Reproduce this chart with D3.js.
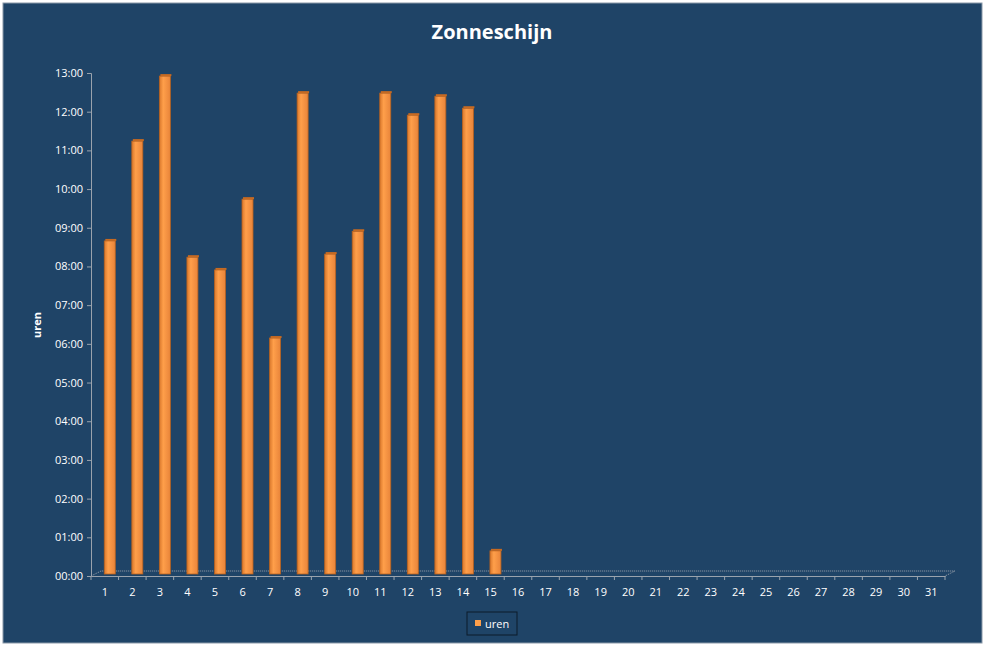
<!DOCTYPE html>
<html><head><meta charset="utf-8">
<script src="https://cdn.jsdelivr.net/npm/d3@7"></script>
<style>body{margin:0;background:#fff}text{font-family:"Open Sans",sans-serif}</style>
</head><body><svg id="c" width="987" height="648"></svg>
<script>
const days = d3.range(1, 32).map(String);
const uren = [8.66, 11.24, 12.92, 8.24, 7.91, 9.74, 6.15, 12.48, 8.32, 8.91, 12.48, 11.91, 12.40, 12.09, 0.65];
const yTicks = d3.range(0, 14);

const svg = d3.select("#c");
svg.append("rect").attr("x", 3).attr("y", 3).attr("width", 979).attr("height", 640)
  .attr("fill", "#1f4467").attr("stroke", "#8a98a8");
svg.append("text").attr("x", 492).attr("y", 39).attr("text-anchor", "middle")
  .attr("fill", "#fff").attr("font-size", 20).attr("font-weight", "bold").text("Zonneschijn");

const x = d3.scaleBand().domain(days).range([91, 945]);
const y = d3.scaleLinear().domain([0, 13]).range([576, 73]);
const dx = 10, dy = -5;
const axisCol = "#9aa3ad";

// floor (3D back edge)
svg.append("path").attr("fill", "none").attr("stroke", axisCol).attr("stroke-dasharray", "1,1")
  .attr("d", `M91,576 L${91 + dx},${576 + dy} L${945 + dx},${576 + dy} L945,576`);

const ya = svg.append("g").attr("transform", "translate(91,0)")
  .call(d3.axisLeft(y).tickValues(yTicks).tickSize(4)
    .tickFormat(d => String(d).padStart(2, "0") + ":00"));
ya.selectAll("text").attr("fill", "#fff").attr("font-size", 11).attr("x", -8);
ya.selectAll("line,path").attr("stroke", axisCol);

const xa = svg.append("g").attr("transform", "translate(0,576)")
  .call(d3.axisBottom(x).tickSize(0).tickPadding(12));
xa.selectAll("text").attr("fill", "#fff").attr("font-size", 11);
xa.select("path").attr("stroke", axisCol);
xa.selectAll(".bnd").data(d3.range(0, 32)).join("line")
  .attr("x1", i => 91 + i * x.step()).attr("x2", i => 91 + i * x.step())
  .attr("y1", 0).attr("y2", 4).attr("stroke", axisCol);

const defs = svg.append("defs");
const g = defs.append("linearGradient").attr("id", "bg");
g.append("stop").attr("offset", "0%").attr("stop-color", "#d9782c");
g.append("stop").attr("offset", "35%").attr("stop-color", "#ff9f4a");
g.append("stop").attr("offset", "100%").attr("stop-color", "#e8843a");

const bw = 11;
const bars = svg.append("g").selectAll("g").data(uren).join("g")
  .attr("transform", (d, i) => `translate(${x.bandwidth() / 2 + x(days[i]) - bw / 2 + 5},0)`);
bars.append("rect").attr("y", d => y(d)).attr("width", bw)
  .attr("height", d => y(0) - 2 - y(d)).attr("fill", "url(#bg)")
  .attr("stroke", "#b8621f").attr("stroke-width", 0.8);
bars.append("rect").attr("y", d => y(d) - 2).attr("x", 1).attr("width", bw).attr("height", 2)
  .attr("fill", "#c66a22");

svg.append("text").attr("transform", "translate(41,325) rotate(-90)").attr("text-anchor", "middle")
  .attr("fill", "#fff").attr("font-size", 11).attr("font-weight", "bold").text("uren");

const lg = svg.append("g").attr("transform", "translate(467,612)");
lg.append("rect").attr("width", 50).attr("height", 23).attr("fill", "none").attr("stroke", "#0d1b2a");
lg.append("rect").attr("x", 8).attr("y", 8).attr("width", 6).attr("height", 6).attr("fill", "#ff9f4a");
lg.append("text").attr("x", 18).attr("y", 16).attr("fill", "#fff").attr("font-size", 11).text("uren");
</script></body></html>
